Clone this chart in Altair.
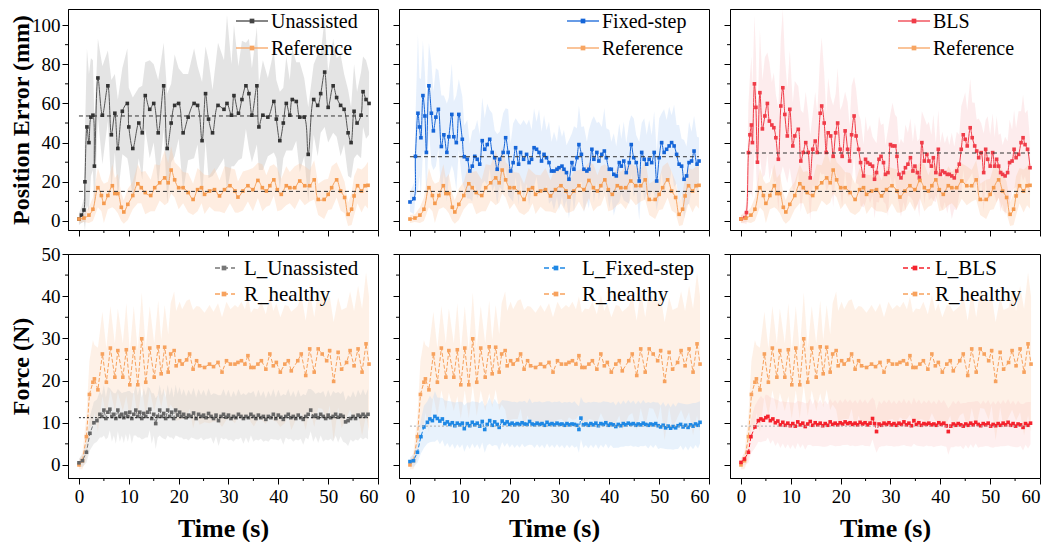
import altair as alt
import pandas as pd

# ---------------- data ----------------
X_DOMAIN = [-2.2, 60]
X_TICKS = [0, 10, 20, 30, 40, 50, 60]
X_MINOR = [5, 15, 25, 35, 45, 55]
Y_TOP_DOMAIN = [-4.6, 108.2]
Y_TOP_TICKS = [0, 20, 40, 60, 80, 100]
Y_TOP_MINOR = [10, 30, 50, 70, 90]
Y_BOT_DOMAIN = [-3.1, 50]
Y_BOT_TICKS = [0, 10, 20, 30, 40, 50]
Y_BOT_MINOR = [5, 15, 25, 35, 45]

TOP_LABELS = ["Unassisted", "Fixed-step", "BLS", "Reference"]
BOT_LABELS = ["L_Unassisted", "L_Fixed-step", "L_BLS", "R_healthy"]

# mean (dashed) levels
TOP_MEANS = [53.6, 32.8, 34.7]
REF_MEAN = 15.1
BOT_MEANS = [11.2, 9.2, 9.2]
MEAN_SPAN = [0, 58]

# [time s, mean, spread]
UNASSISTED = [[0,1,3],[0.5,3,4],[1,5.6,6],[1.2,20,25],[1.6,48,40],[2,40,35],[2.4,53,30],[2.8,54,28],[3.1,28,22],[3.8,73,20],[4.7,54,25],[5.8,69,18],[6.5,44,28],[7.2,55,20],[7.8,37,25],[8.7,56,22],[9.7,60,28],[10,48,20],[10.8,37,26],[12,50,18],[12.7,45,24],[13.3,64,17],[14.2,57,25],[15,60,20],[15.9,45,27],[17,69,22],[17.7,37,28],[18.5,50,20],[19.2,59,26],[20,60,18],[20.9,45,30],[21.9,53,22],[23.1,60,28],[23.8,59,20],[24.7,41,30],[25.4,65,24],[26,52,30],[26.8,45,22],[27.9,59,32],[29.1,57,25],[29.7,60,45],[30.6,54,26],[31.1,64,36],[32,55,24],[32.7,62,30],[33.5,69,22],[34.1,65,28],[34.7,54,24],[35.7,69,30],[36.1,48,22],[36.9,54,28],[37.9,53,20],[39.1,61,26],[39.6,52,20],[40.3,41,25],[41,50,18],[41.6,60,24],[42.3,54,18],[42.8,62,26],[43.6,61,20],[44.3,53,28],[45.2,53,20],[46,34,24],[47.1,62,18],[47.9,59,26],[48.5,65,20],[49.3,76,28],[50,58,18],[51,69,24],[51.7,63,20],[52.5,59,26],[53.2,57,18],[54,45,22],[54.6,40,18],[55.2,56,24],[55.8,50,16],[56.6,54,22],[57,66,18],[57.6,62,20],[58.2,60,16]]

REFERENCE = [[0,1,2],[1,1.5,2],[2,3,4],[2.8,6,6],[3.8,17,10],[4.5,13,8],[5,9,10],[5.8,13,7],[6.7,18,11],[7.2,14,8],[7.8,14,10],[8.5,7,7],[9,4.6,6],[9.8,8.5,8],[10.8,13,7],[11.8,19,10],[12.5,17,8],[13.3,14.5,11],[14.4,13,8],[15.2,17,12],[16.2,19.5,9],[17.2,22,14],[17.9,19.5,10],[18.5,26,12],[19.2,21,9],[20,17,11],[20.9,17,8],[21.9,14.5,10],[22.9,11,8],[23.8,16,11],[24.6,17,8],[25.2,13.6,10],[26.2,15.3,8],[27.2,16,11],[28.2,12.8,8],[29.2,16,12],[30.3,18,9],[31.3,15.3,11],[31.9,12.2,8],[32.9,15.3,10],[33.9,18,8],[34.9,16,11],[35.9,20.7,9],[36.8,17,12],[37.6,15.3,8],[38.3,18,10],[39.1,21,8],[39.8,16,11],[40.6,13.6,8],[41.6,18,10],[42.3,17,8],[43.3,17,11],[44.3,20.4,9],[45.3,18,10],[46.3,18,8],[47.2,21,10],[48,11,8],[49.2,11,10],[50,13.6,8],[50.7,17,11],[51.7,21,9],[52.5,15.3,10],[53.3,12,8],[54,3.4,6],[54.7,6,8],[55.2,12.8,10],[55.9,18,9],[56.7,15.3,11],[57.4,18,10],[58,18.2,12]]

FIXED = [[0,9.7,5],[0.8,11.4,8],[1.1,33,20],[1.6,55,40],[1.9,48,25],[2.2,42.5,30],[2.6,64,28],[3,53.6,22],[3.3,35,25],[3.8,69,22],[4.3,55,26],[4.7,46,20],[5.2,53,25],[5.7,57,20],[6.3,38,26],[6.8,44,20],[7.4,35,25],[7.8,43,20],[8.4,54.4,26],[8.8,43,18],[9.3,40,24],[9.8,54.4,18],[10.5,41.7,22],[10.9,32.8,16],[11.5,31.5,20],[12,25.5,14],[12.5,28,18],[13,33,14],[13.5,31.5,20],[14,29,15],[14.5,41,22],[15,36.6,16],[15.5,39,21],[16,41.7,15],[16.5,35,20],[17,32.3,14],[17.5,26.4,18],[18,31.5,14],[18.7,35,20],[19.2,42.5,15],[19.7,35,22],[20.2,25.5,14],[20.7,29.8,20],[21.2,37.4,15],[21.8,29,21],[22.2,35,14],[22.8,31.5,20],[23.4,34,15],[23.9,29.8,22],[24.4,31.5,15],[24.9,37.4,20],[25.4,36.6,14],[25.9,35,22],[26.4,30.6,15],[26.9,34,20],[27.4,32.3,14],[27.9,29.8,21],[28.4,25.5,15],[28.9,25.5,20],[29.5,26.4,14],[29.9,27.2,22],[30.5,28,15],[30.9,26.4,20],[31.4,24.7,14],[31.9,21.3,20],[32.5,29.8,15],[32.9,26.4,22],[33.5,32.3,15],[33.9,39,20],[34.4,34,14],[34.9,26.4,22],[35.5,25.5,15],[35.9,26.4,20],[36.5,36.6,15],[36.9,31.5,22],[37.5,35,15],[37.9,30.6,20],[38.5,34,14],[39,35.7,22],[39.4,32.3,15],[40,26.4,20],[40.4,26.4,14],[40.9,23.8,21],[41.4,23,15],[42,29.8,20],[42.4,28,14],[42.9,30.6,20],[43.4,24.7,15],[44,29.8,21],[44.4,39,15],[44.9,32.3,20],[45.4,29.8,14],[46,20.4,20],[46.5,35,15],[47,31.5,21],[47.5,29,15],[48,31.5,20],[48.5,29.8,14],[49,35,21],[49.5,20.4,15],[50,32.3,20],[50.5,40,15],[51,35,22],[51.5,36.6,15],[52,38.3,20],[52.5,40,14],[53,38.3,21],[53.5,34,15],[54,29,20],[54.5,28,14],[55,21.3,20],[55.5,23,15],[56,29.8,21],[56.5,30.6,15],[57,35.7,18],[57.6,29,14],[58,30.6,12]]

BLS = [[0,1,2],[0.8,1.7,3],[1.1,4.3,6],[1.5,34.9,25],[1.8,44,30],[2.1,49,35],[2.3,40,28],[2.7,70,35],[3,58,28],[3.3,30,22],[3.8,65.5,32],[4.3,47,25],[4.8,53.6,30],[5.3,60,26],[5.7,51,30],[6.2,49,22],[6.6,47.6,28],[7,42.5,22],[7.5,31.5,26],[8,58.7,35],[8.4,68,40],[8.8,54.4,30],[9.3,43.4,24],[9.8,57,30],[10.4,38.3,22],[10.8,43.4,28],[11.5,46.8,22],[12,30.6,26],[12.5,35,20],[13,40,26],[13.5,35,20],[13.9,22,22],[14.4,36.6,18],[14.9,40.8,25],[15.3,35,20],[15.9,55,30],[16.2,58.7,35],[16.7,50,26],[17.1,35,20],[17.5,45,28],[18,43.4,20],[18.5,33,26],[19,45,20],[19.4,50,28],[19.9,36.6,20],[20.3,33,26],[20.9,46,20],[21.4,36.6,24],[21.8,30.6,18],[22.2,44,25],[22.7,53.6,20],[23.1,43.4,24],[23.6,36.6,18],[24,29.8,22],[24.6,23,16],[25,31.5,22],[25.4,29.8,16],[25.9,29,20],[26.4,28,15],[26.8,21.3,20],[27.2,24.7,15],[27.7,31.5,22],[28.1,33,16],[28.6,29.8,20],[29,23.8,15],[29.5,24.7,22],[30,39,16],[30.4,38.3,22],[30.9,38.3,16],[31.3,33,20],[31.7,23.8,15],[32.1,22,20],[32.6,24.7,15],[33,27.2,22],[33.5,29,16],[34,32.3,20],[34.5,25.5,15],[34.9,28,22],[35.4,24.7,16],[35.8,22,20],[36.3,40,16],[36.8,30.6,22],[37.3,34,15],[37.7,30.6,20],[38.2,28,16],[38.6,32.3,22],[39.1,24.7,15],[39.6,36.6,20],[40,23.8,16],[40.4,25.5,20],[40.9,24.7,15],[41.4,23.8,20],[41.8,23.8,15],[42.3,23,22],[42.8,22,16],[43.3,25.5,20],[43.8,29,15],[44.2,36.6,22],[44.6,44,18],[45,41.7,24],[45.4,38.3,18],[46,47.6,25],[46.4,42.5,18],[46.9,38.3,22],[47.3,35.7,16],[47.7,32.3,20],[48.2,34.9,15],[48.7,24.7,20],[49.1,36.6,15],[49.5,31.5,22],[50,28,16],[50.5,34.9,20],[50.9,28,15],[51.3,31.5,22],[51.7,28,16],[52.1,24.7,20],[52.5,23.8,15],[53,23,20],[53.5,24.7,16],[53.9,29.8,22],[54.4,30.6,16],[54.8,36.6,20],[55.2,32.3,15],[55.7,34,22],[56.2,40,16],[56.6,42.5,22],[57,39,16],[57.5,36.6,20],[58,27.2,14]]

R_HEALTHY = [[0,0,1],[0.7,1,2],[1.5,6.7,5],[2.1,16.7,8],[2.8,19.6,10],[3.1,20.4,8],[3.8,17.8,10],[4.7,26.3,10],[5.5,19.6,8],[6.3,27.7,10],[7.2,20.8,8],[7.8,27.1,10],[8.8,20.8,8],[9.5,27.3,11],[10.2,19,8],[11,27.7,10],[11.8,19,8],[12.6,29.9,11],[13.4,19.6,8],[14.2,27.7,10],[15.1,20.8,8],[15.9,28,11],[16.5,21.6,8],[17.2,27.9,10],[17.9,22,9],[18.4,26.3,12],[19.1,27.1,14],[19.5,23.5,13],[20.2,24.7,14],[20.7,23.9,13],[21.6,24.9,14],[22.2,26.3,13],[22.9,22.7,14],[23.6,24.7,13],[24.2,23.5,14],[25.2,23.1,13],[26.2,23.9,14],[27,23.3,13],[27.9,24.3,14],[28.7,22,13],[29.6,24.7,14],[30.4,23.9,13],[31.3,23.9,14],[31.9,24.3,13],[32.6,24.7,14],[33.3,23.9,13],[33.9,25.9,14],[34.5,23.1,13],[35.1,23.1,14],[35.9,23.9,13],[36.6,24.7,14],[37.5,22.7,13],[38.3,26.3,14],[39,23.5,13],[39.6,24.3,14],[40.4,22,13],[41.3,23.9,14],[42,24.7,13],[42.6,22.3,14],[43.9,24.7,13],[44.6,26.3,14],[45.5,21.2,13],[46.3,27.5,14],[47.2,22,13],[48,27.5,14],[48.8,26.3,13],[49.7,24.7,14],[50.3,27.1,13],[51.1,19.8,14],[52,26.7,13],[52.7,22.7,14],[53.7,24.3,13],[54.4,27.1,14],[55.2,23.5,13],[56,27.5,15],[56.8,22,15],[57.6,28.7,17],[58.2,23.9,16]]

L_UNASSISTED = [[0,0.5,1],[0.7,1,1.5],[1.5,3,2.5],[2.2,7.5,4],[3,10,5],[3.6,10.5,5],[4.2,12,5.5],[4.6,11.5,5],[5,13,6],[5.4,11,5],[5.8,12.5,6],[6.2,13.2,5],[6.6,11.5,6],[7,12,5],[7.4,11,6],[7.8,13,5],[8.2,11.5,6],[8.6,12,5],[9,11.2,6],[9.4,12.3,5],[9.8,11.5,6],[10.2,12.5,5],[10.6,11,6],[11,12,5],[11.4,13,6],[11.8,11.5,5],[12.2,12.5,6],[12.6,11,5],[13,12.2,6],[13.4,11.5,5],[13.8,12.5,6],[14.2,13.2,5],[14.6,11,6],[15,12,5],[15.4,9.8,6],[15.8,11.5,5],[16.2,13,6],[16.6,11.5,5],[17,12.2,6],[17.4,11,5],[17.8,13,6],[18.2,11.5,5],[18.6,12.5,6],[19,11,5],[19.4,13,6],[19.8,11.8,5],[20.2,12.5,6],[20.6,11.5,5],[21,12,6],[21.5,11.2,5],[22,11.8,6],[22.5,11.5,5],[23,12.3,6],[23.5,11,5],[24,12,6],[24.5,11.5,5],[25,11.8,6],[25.5,11.2,5],[26,12.2,6],[26.5,11.5,5],[27,11,6],[27.5,11.8,5],[28,10.5,6],[28.5,11.5,5],[29,12,6],[29.5,11.3,5],[30,11.8,6],[30.5,11,5],[31,11.5,6],[31.5,11.2,5],[32,12,6],[32.5,11.5,5],[33,11,6],[33.5,11.5,5],[34,11.2,6],[34.5,12,5],[35,11.5,6],[35.5,11,5],[36,11.8,6],[36.5,11.2,5],[37,11.5,6],[37.5,10.8,5],[38,11.5,6],[38.5,11.2,5],[39,12,6],[39.5,11,5],[40,11.8,6],[40.5,11.3,5],[41,10.8,6],[41.5,11.5,5],[42,12,6],[42.5,11.2,5],[43,11.5,6],[43.5,11,5],[44,11.8,6],[44.5,11.2,5],[45,10.8,6],[45.5,11.5,5],[46,12,6],[46.5,13,5],[47,11.5,6],[47.5,11.8,5],[48,11.2,6],[48.5,12,5],[49,11.5,6],[49.5,11,5],[50,11.8,6],[50.5,11.2,5],[51,11.5,6],[51.5,12,5],[52,11.3,6],[52.5,11.8,5],[53,11.5,6],[53.5,10.2,5],[54,10.5,6],[54.5,11,5],[55,11.5,6],[55.5,11,5],[56,11.8,6],[56.5,11.5,5],[57,12,6],[57.5,11.5,5],[58,12,6]]

L_FIXED = [[0,0.8,1],[0.7,1,1.5],[1.5,3,2.5],[2.2,6.7,4],[2.8,9,5],[3.5,10.1,5],[4,10.9,5.5],[4.5,10.5,5],[5,11.5,6],[5.5,11,5],[6,10.4,5.5],[6.5,10.9,5],[7,9.8,5.5],[7.5,10.2,5],[8,9.6,5.5],[8.5,10,5],[9,9.3,5.5],[9.5,9.9,5],[10,9.5,5.5],[10.5,9.9,5],[10.9,8.6,5.5],[11.5,9.8,5],[12,9.3,5.5],[12.5,10.1,5],[13,9.5,5.5],[13.5,9.9,5],[14,9.2,5.5],[14.5,10.3,5],[15,8.4,5.5],[15.5,9.6,5],[16,10.5,5.5],[16.5,9.4,5],[17,10.2,5.5],[17.5,9.6,5],[17.9,8.9,5.5],[18.5,10.4,5],[19,9.8,5.5],[19.5,10.2,5],[20,9.6,5.5],[20.5,9.9,5],[21,9.5,5.5],[21.5,9.8,5],[22,9.6,5.5],[22.5,10,5],[23,9.7,5.5],[23.5,9.6,5],[24,10.3,5.5],[24.5,9.7,5],[25,9.5,5.5],[25.5,9.9,5],[26,9.6,5.5],[26.5,9.8,5],[27,9.4,5.5],[27.5,10.1,5],[28,9.6,5.5],[28.5,9.8,5],[29,9.5,5.5],[29.5,9.9,5],[30,9.6,5.5],[30.5,9.7,5],[31,9.4,5.5],[31.5,9.8,5],[32,9.5,5.5],[32.5,9.7,5],[33,9.6,5.5],[33.5,9.4,5],[33.9,8.4,5.5],[34.3,11.1,5],[34.8,9.5,5.5],[35.3,9.7,5],[35.8,9.4,5.5],[36.3,9.8,5],[36.8,9.5,5.5],[37.3,9.9,5],[37.8,9.3,5.5],[38.3,9.8,5],[38.8,9.6,5.5],[39.3,10,5],[39.8,9.4,5.5],[40.3,9.7,5],[40.8,9.5,5.5],[41.3,9.1,5],[41.8,9.6,5.5],[42.3,9.3,5],[42.8,9.8,5.5],[43.3,9.5,5],[43.8,9.9,5.5],[44.3,9.6,5],[44.8,9.8,5.5],[45.3,9.4,5],[45.8,9.7,5.5],[46.3,9.5,5],[46.8,9.9,5.5],[47.3,9.6,5],[47.8,9.4,5.5],[48.3,9.7,5],[48.8,9.5,5.5],[49.3,9.8,5],[49.8,9.3,5.5],[50.3,9,5],[50.8,9.4,5.5],[51.3,8.8,5],[51.8,9.2,5.5],[52.3,8.7,5],[52.8,9.1,5.5],[53.3,8.8,5],[53.8,9.3,5.5],[54.3,9.6,5],[54.8,9,5.5],[55.3,9.4,5],[55.8,8.9,5.5],[56.3,9.5,5],[56.8,9.2,5.5],[57.3,9.7,5],[57.8,9.4,5.5],[58.2,10.1,5]]

L_BLS = [[0,0.6,1],[0.7,1.4,1.5],[1.5,3,2.5],[2,6.7,4],[2.8,9,5],[3.5,10.5,5],[4,10.9,5.5],[4.5,10.6,5],[5,11.2,5.5],[5.4,11.5,5],[5.9,10.5,5.5],[6.4,10.9,5],[6.9,10,5.5],[7.4,10.4,5],[7.9,9.5,5.5],[8.4,10.1,5],[8.9,9.4,5.5],[9.4,9.9,5],[9.9,9.3,5.5],[10.4,9.8,5],[10.9,9.2,5.5],[11.4,10.2,5],[11.9,9.5,5.5],[12.4,9.9,5],[12.9,9.1,5.5],[13.4,9.7,5],[13.9,10.3,5.5],[14.4,9.4,5],[14.9,10,5.5],[15.4,9.5,5],[15.9,9.9,5.5],[16.4,9.3,5],[16.9,9.8,5.5],[17.4,9.4,5],[17.9,10.2,5.5],[18.4,9.6,5],[18.9,9.9,5.5],[19.4,9.5,5],[19.9,10,5.5],[20.4,9.7,5],[20.9,10.2,5.5],[21.4,9.8,5],[21.9,10,5.5],[22.4,9.6,5],[22.9,9.9,5.5],[23.4,9.5,5],[23.9,10.1,5.5],[24.4,9.7,5],[24.9,10,5.5],[25.4,9.5,5],[25.9,9.9,5.5],[26.4,11,5],[26.8,9.8,5.5],[27.2,7.9,5],[27.7,9.7,5.5],[28.2,9.4,5],[28.7,9.9,5.5],[29.2,9.6,5],[29.7,10,5.5],[30.2,9.5,5],[30.7,9.8,5.5],[31.2,9.4,5],[31.7,9.9,5.5],[32.2,9.6,5],[32.7,10.2,5.5],[33.2,9.5,5],[33.7,9.9,5.5],[34.2,9.3,5],[34.7,10.5,5.5],[35.2,9.6,5],[35.7,10,5.5],[36.2,9.4,5],[36.7,9.8,5.5],[37.2,9.6,5],[37.7,9.9,5.5],[38.2,9.5,5],[38.7,9.7,5.5],[39.2,9.4,5],[39.7,10,5.5],[40.2,9.6,5],[40.7,9.9,5.5],[41.2,9.3,5],[41.6,7.9,5.5],[42.1,9.2,5],[42.6,9.7,5.5],[43.1,9.4,5],[43.6,9.8,5.5],[44.1,9.5,5],[44.6,9.2,5.5],[45.1,9.7,5],[45.6,9.4,5.5],[46.1,9.9,5],[46.6,9.5,5.5],[47.1,10.1,5],[47.6,9.6,5.5],[48.1,9.3,5],[48.6,9.8,5.5],[49.1,9.5,5],[49.6,9.9,5.5],[50.1,9.2,5],[50.6,9.6,5.5],[51.1,9.3,5],[51.6,9.8,5.5],[52.1,9.4,5],[52.6,9.9,5.5],[53.1,9.5,5],[53.6,10.1,5.5],[54.1,9.4,5],[54.6,9.8,5.5],[55.1,9.2,5],[55.6,9.7,5.5],[56.1,9.5,5],[56.6,8.9,5.5],[57.1,9.8,5],[57.6,9.4,5.5],[58.1,9.9,5]]

# ---------------- styling ----------------
FONT = "Liberation Serif"
W = 310
H_TOP = 221
H_BOT = 224


def to_df(triples):
    df = pd.DataFrame(triples, columns=["t", "v", "s"])
    df["lo"] = df["v"] - df["s"]
    df["hi"] = df["v"] + df["s"]
    return df


def make_panel(row, col, series, means, legend):
    h = H_TOP if row == 0 else H_BOT
    ydom = Y_TOP_DOMAIN if row == 0 else Y_BOT_DOMAIN
    yticks = Y_TOP_TICKS if row == 0 else Y_BOT_TICKS
    yminor = Y_TOP_MINOR if row == 0 else Y_BOT_MINOR

    xaxis_kw = dict(values=X_TICKS, labels=(row == 1), tickSize=6, labelPadding=3,
                    labelFont=FONT, labelFontSize=19, labelColor="black",
                    grid=False, domainColor="black", tickColor="black")
    if row == 1:
        xaxis_kw.update(title="Time (s)", titleFont=FONT, titleFontSize=26,
                        titleFontWeight="bold", titlePadding=9, titleColor="black")
    else:
        xaxis_kw.update(title=None)
    yaxis_kw = dict(values=yticks, labels=(col == 0), tickSize=6, labelPadding=2,
                    labelFont=FONT, labelFontSize=19, labelColor="black",
                    grid=False, domainColor="black", tickColor="black")
    if col == 0:
        yaxis_kw.update(title=("Position Error (mm)" if row == 0 else "Force (N)"),
                        titleFont=FONT, titleFontSize=24, titleFontWeight="bold",
                        titleColor="black", titleX=-35, titleY=h / 2)
    else:
        yaxis_kw.update(title=None)

    xs = alt.Scale(domain=X_DOMAIN, nice=False, zero=False)
    ys = alt.Scale(domain=ydom, nice=False, zero=False)
    xax = alt.Axis(**xaxis_kw)
    yax = alt.Axis(**yaxis_kw)

    def X(f):
        return alt.X(f, type="quantitative", scale=xs, axis=xax)

    def Y(f):
        return alt.Y(f, type="quantitative", scale=ys, axis=yax)

    layers = []
    for s in series:
        df = s["df"]
        layers.append(alt.Chart(df).mark_area(color=s["band"], opacity=s["bandop"], clip=True)
                      .encode(x=X("t"), y=Y("lo"), y2="hi"))
    for s in series:
        df = s["df"]
        kw = dict(color=s["color"], strokeWidth=1, interpolate=s["interp"], clip=True)
        if s.get("dash"):
            kw["strokeDash"] = s["dash"]
        layers.append(alt.Chart(df).mark_line(**kw).encode(x=X("t"), y=Y("v")))
        layers.append(alt.Chart(df).mark_point(shape="square", filled=True, size=13,
                                               color=s["marker"], opacity=1, clip=True)
                      .encode(x=X("t"), y=Y("v")))
    for m in means:
        mdf = pd.DataFrame({"y": [m["y"]], "t0": [MEAN_SPAN[0]], "t1": [MEAN_SPAN[1]]})
        layers.append(alt.Chart(mdf).mark_rule(color=m["color"], strokeDash=m["dash"], strokeWidth=1)
                      .encode(x=X("t0"), x2="t1", y=Y("y")))
    # minor ticks
    layers.append(alt.Chart(pd.DataFrame({"m": yminor})).mark_rule(color="black", strokeWidth=1)
                  .encode(y=Y("m"), x=alt.value(0), x2=alt.value(-3)))
    layers.append(alt.Chart(pd.DataFrame({"m": X_MINOR})).mark_rule(color="black", strokeWidth=1)
                  .encode(x=X("m"), y=alt.value(h), y2=alt.value(h + 3)))
    # legend
    for e in legend:
        ldf = pd.DataFrame({"label": [e["label"]]})
        rk = dict(color=e["color"], strokeWidth=1.3)
        if e.get("dash"):
            rk["strokeDash"] = e["dash"]
        layers.append(alt.Chart(ldf).mark_rule(**rk)
                      .encode(x=alt.value(e["x0"]), x2=alt.value(e["x1"]), y=alt.value(e["y"])))
        layers.append(alt.Chart(ldf).mark_point(shape="square", filled=True, size=22,
                                                color=e["color"], opacity=1)
                      .encode(x=alt.value(e["xs"]), y=alt.value(e["y"])))
        layers.append(alt.Chart(ldf).mark_text(align="left", baseline="middle", font=FONT,
                                               fontSize=e["fs"], color="black")
                      .encode(x=alt.value(e["xt"]), y=alt.value(e["y"] + 1), text="label:N"))
    return alt.layer(*layers).properties(width=W, height=h)


ref_style = dict(df=to_df(REFERENCE), color="#f7a562", marker="#f59a4e", band="#fbc39a",
                 bandop=0.3, interp="catmull-rom")
top_styles = [
    dict(df=to_df(UNASSISTED), color="#555555", marker="#333333", band="#c4c4c4", bandop=0.45, interp="catmull-rom"),
    dict(df=to_df(FIXED), color="#1565d8", marker="#1565d8", band="#b3d1f5", bandop=0.32, interp="catmull-rom"),
    dict(df=to_df(BLS), color="#f03c48", marker="#f03c48", band="#f9b8bb", bandop=0.27, interp="catmull-rom"),
]
top_leg_colors = ["#444444", "#1565d8", "#f03c48"]

rh_style = dict(df=to_df(R_HEALTHY), color="#f7a25e", marker="#f7a25e", band="#fcd0ae",
                bandop=0.3, interp="linear", dash=[4, 2])
bot_styles = [
    dict(df=to_df(L_UNASSISTED), color="#777777", marker="#666666", band="#cccccc", bandop=0.35, interp="linear", dash=[4, 2]),
    dict(df=to_df(L_FIXED), color="#1e88e5", marker="#1e88e5", band="#b8d8f7", bandop=0.32, interp="linear", dash=[4, 2]),
    dict(df=to_df(L_BLS), color="#f5222d", marker="#f5222d", band="#fbc4c4", bandop=0.27, interp="linear", dash=[4, 2]),
]
bot_leg_colors = ["#777777", "#1e88e5", "#f5222d"]
bot_leg_geom = [(147, 167, 156, 176), (145, 168, 157, 183), (173, 200, 185, 205)]

panels = []
for i in range(3):
    legend = [
        dict(label=TOP_LABELS[i], color=top_leg_colors[i], x0=168, x1=200, xs=184, xt=203, y=12, fs=20),
        dict(label=TOP_LABELS[3], color="#f7a562", x0=168, x1=200, xs=184, xt=203, y=39, fs=20),
    ]
    means = [dict(y=TOP_MEANS[i], color="#333333", dash=[4, 3]),
             dict(y=REF_MEAN, color="#333333", dash=[4, 3])]
    panels.append(make_panel(0, i, [top_styles[i], ref_style], means, legend))

for i in range(3):
    x0, x1, xs, xt = bot_leg_geom[i]
    legend = [
        dict(label=BOT_LABELS[i], color=bot_leg_colors[i], x0=x0, x1=x1, xs=xs, xt=xt, y=14, fs=21, dash=[5, 3]),
        dict(label=BOT_LABELS[3], color="#f7a25e", x0=x0, x1=x1, xs=xs, xt=xt, y=40, fs=21, dash=[5, 3]),
    ]
    mcol = "#222222" if i == 0 else "#aaaaaa"
    means = [dict(y=BOT_MEANS[i], color=mcol, dash=[2, 2])]
    panels.append(make_panel(1, i, [rh_style, bot_styles[i]], means, legend))

chart = alt.concat(*panels, columns=3, spacing={"row": 24, "column": 21}, bounds="flush").properties(
    padding=0, background="white"
).configure_view(stroke="black", strokeWidth=1)

chart.save("out.html", embed_options={"renderer": "svg", "actions": False})
